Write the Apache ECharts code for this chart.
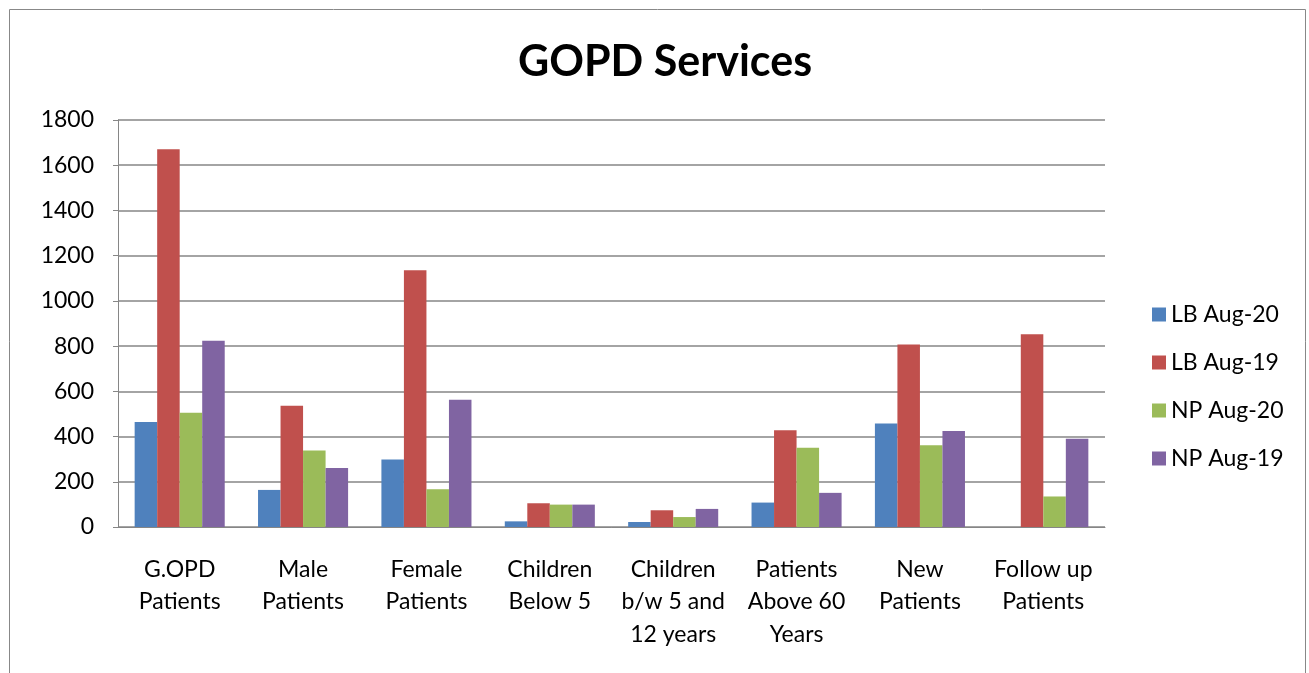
<!DOCTYPE html>
<html><head><meta charset="utf-8">
<script src="https://cdn.jsdelivr.net/npm/echarts@6/dist/echarts.min.js"></script>
<style>html,body{margin:0;padding:0;background:#fff}#c{width:1309px;height:673px}</style>
</head><body><div id="c"></div>
<script>
const categories = ["G.OPD\nPatients","Male\nPatients","Female\nPatients","Children\nBelow 5","Children\nb/w 5 and\n12 years","Patients\nAbove 60\nYears","New\nPatients","Follow up\nPatients"];
const seriesNames = ["LB Aug-20","LB Aug-19","NP Aug-20","NP Aug-19"];
const lbAug20 = [464,164,299,25,22,108,458,0];
const lbAug19 = [1671,536,1135,105,74,428,807,853];
const npAug20 = [505,338,167,99,44,350,361,135];
const npAug19 = [824,261,563,99,80,151,425,390];
const yTicks = [0,200,400,600,800,1000,1200,1400,1600,1800];
const colors = ["#4F81BD","#C0504D","#9BBB59","#8064A2"];
const data = [lbAug20,lbAug19,npAug20,npAug19];
const font = "Lato, 'Noto Sans', sans-serif";
const chart = echarts.init(document.getElementById('c'));
chart.setOption({
  animation:false,
  color:colors,
  title:{text:"GOPD Services",left:660,top:36,textAlign:'center',textStyle:{fontFamily:font,fontWeight:'bold',fontSize:43,color:'#000'}},
  graphic:[{type:'rect',shape:{x:9.5,y:9.5,width:1296,height:700},style:{fill:'none',stroke:'#888',lineWidth:1},silent:true,z:-1}],
  grid:{left:118,right:204,top:120,bottom:146},
  legend:{orient:'vertical',left:1147,top:298,itemWidth:14,itemHeight:14,itemGap:25,icon:'rect',
    textStyle:{fontFamily:font,fontSize:23,color:'#000'},data:seriesNames},
  xAxis:{type:'category',data:categories,
    axisLine:{lineStyle:{color:'#868686',width:1}},axisTick:{show:false},
    axisLabel:{fontFamily:font,fontSize:23,color:'#000',lineHeight:32.5,margin:26,interval:0}},
  yAxis:{type:'value',min:0,max:1800,interval:200,
    axisLine:{show:true,lineStyle:{color:'#868686'}},axisTick:{show:true,length:5,lineStyle:{color:'#868686'}},
    splitLine:{lineStyle:{color:'#868686',width:1.5}},
    axisLabel:{fontFamily:font,fontSize:23,color:'#000',margin:24,
      formatter:v=>yTicks.includes(v)?String(v):''}},
  series:seriesNames.map((n,i)=>({name:n,type:'bar',data:data[i],barGap:'0%',barCategoryGap:'27%',
    itemStyle:{color:colors[i]}}))
});
</script></body></html>
